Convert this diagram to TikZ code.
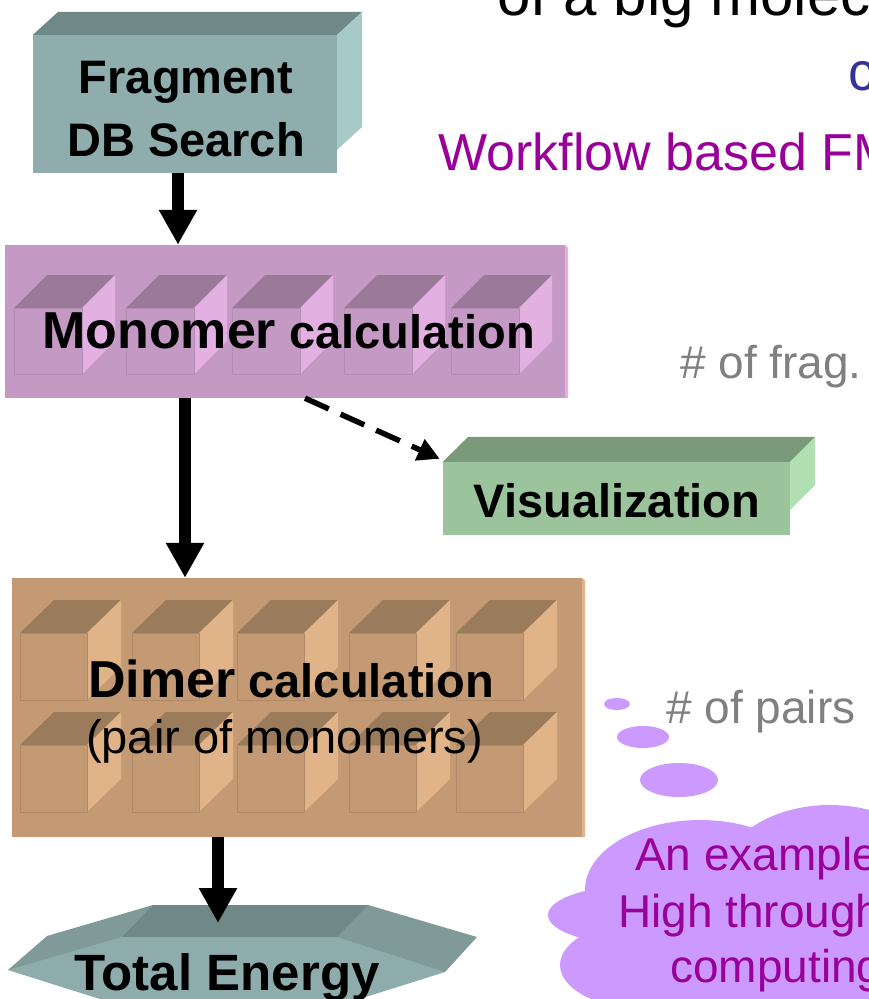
\documentclass[tikz,border=0pt]{standalone}
\usepackage{fontspec}
\setmainfont{Liberation Sans}
\usetikzlibrary{arrows.meta}
\definecolor{fragfront}{HTML}{8FADAD}
\definecolor{fragtop}{HTML}{6F8888}
\definecolor{fragside}{HTML}{A7C9C9}
\definecolor{monoback}{HTML}{C499C4}
\definecolor{monotop}{HTML}{9A7A98}
\definecolor{monoside}{HTML}{E2B1E2}
\definecolor{monoedge}{HTML}{B48CB4}
\definecolor{visfront}{HTML}{9CC49C}
\definecolor{vistop}{HTML}{7A9A7A}
\definecolor{visside}{HTML}{B2E0B2}
\definecolor{dimerback}{HTML}{C49A74}
\definecolor{dimertop}{HTML}{9A7B5C}
\definecolor{dimerside}{HTML}{E0B488}
\definecolor{dimeredge}{HTML}{B08A66}
\definecolor{tefront}{HTML}{8EACAC}
\definecolor{tetop}{HTML}{718888}
\definecolor{teside}{HTML}{809999}
\definecolor{bubble}{HTML}{CC99FF}
\definecolor{graytext}{HTML}{808080}
\definecolor{flowpurple}{HTML}{990099}
\definecolor{cfblue}{HTML}{333399}
\tikzset{
  bigarrow/.style={line width=12pt, -{Triangle[width=36pt,length=35pt]}},
  dasharrow/.style={line width=5.5pt, dash pattern=on 26pt off 13pt, -{Triangle[width=22pt,length=22pt]}},
  boxtext/.style={inner sep=0, font=\bfseries\fontsize{47}{56}\selectfont},
  plaintext/.style={inner sep=0, anchor=base west, font=\fontsize{46}{55}\selectfont},
  flatbox/.style={draw=none, inner sep=0, minimum width=#1},
}
\begin{document}
\begin{tikzpicture}[x=1pt, y=-1pt]
  \useasboundingbox (0,0) rectangle (869,999);
  \clip (0,0) rectangle (869,999);
  \node[inner sep=0, anchor=base west, font=\fontsize{60}{72}\selectfont] (title) at (497,15) {of a big molecule};
  \node[inner sep=0, anchor=base west, text=cfblue, font=\fontsize{54}{64}\selectfont] (cf) at (848,90) {c};
  \node[inner sep=0, anchor=base west, text=flowpurple, font=\fontsize{52}{62}\selectfont] (flow) at (438,170) {Workflow based FMO};
  \node[plaintext, text=graytext] (nfrag) at (680,378) {\# of frag.};
  \node[plaintext, text=graytext] (npairs) at (666,723) {\# of pairs};
  % fragment search
  \node[flatbox=304pt, fill=fragfront, minimum height=138pt] (frag) at (185,104) {};
  \fill[fragtop] (frag.north west) -- (frag.north east) -- ++(25,-23) -- ++(-304,0) -- cycle;
  \fill[fragside] (frag.north east) -- ++(25,-23) -- ++(0,115) -- ++(-25,23) -- cycle;
  \node[boxtext, anchor=base] (fragtxt1) at (186,93) {Fragment};
  \node[boxtext, anchor=base] (fragtxt2) at (186,156) {DB Search};
  % monomers
  \node[flatbox=560pt, fill=monoback, minimum height=153pt] (mono) at (285,321.5) {};
  \fill[monoside] (mono.north east) -- ++(3,3) -- ++(0,150) -- ++(-3,0) -- cycle;
  \foreach \x in {14,126,232,344,451} {
    \fill[monotop] (\x,308) -- ++(68,0) -- ++(33,-33) -- ++(-68,0) -- cycle;
    \fill[monoside] (\x+68,308) -- ++(33,-33) -- ++(0,66) -- ++(-33,33) -- cycle;
    \draw[monoedge, line width=1pt] (\x,308) rectangle ++(68,66);
  }
  \node[boxtext, anchor=base west] (monotxt) at (42,348)
    {{\fontsize{52}{62}\selectfont Monomer} calculation};
  % visualization
  \node[flatbox=347pt, fill=visfront, minimum height=73pt] (vis) at (616.5,498.5) {};
  \fill[vistop] (vis.north west) -- (vis.north east) -- ++(25,-25) -- ++(-347,0) -- cycle;
  \fill[visside] (vis.north east) -- ++(25,-25) -- ++(0,48) -- ++(-25,25) -- cycle;
  \node[boxtext, anchor=base] (vistxt) at (617,517) {Visualization};
  % dimers
  \node[flatbox=570pt, fill=dimerback, minimum height=259pt] (dimer) at (297,707.5) {};
  \fill[dimerside] (dimer.north east) -- ++(3,3) -- ++(0,256) -- ++(-3,0) -- cycle;
  \foreach \x in {20,132,237,349,456} {
    \foreach \y in {633,745} {
      \fill[dimertop] (\x,\y) -- ++(67,0) -- ++(34,-33) -- ++(-67,0) -- cycle;
      \fill[dimerside] (\x+67,\y) -- ++(34,-33) -- ++(0,67) -- ++(-34,33) -- cycle;
      \draw[dimeredge, line width=1pt] (\x,\y) rectangle ++(67,67);
    }
  }
  \node[boxtext, anchor=base west] (dimertxt) at (88,697)
    {{\fontsize{52}{62}\selectfont Dimer} calculation};
  \node[inner sep=0, anchor=base west, font=\fontsize{47}{56}\selectfont] (pairtxt) at (86,753) {(pair of monomers)};
  % total energy
  \fill[teside] (8,970) -- (47,936) -- (153,905) -- (368,905) -- (477,937) -- (445,972) -- cycle;
  \fill[tetop] (153,905) -- (368,905) -- (337,937) -- (122,937) -- cycle;
  \fill[tefront] (8,970) -- (122,937) -- (337,937) -- (445,972) -- (337,1006) -- (122,1006) -- cycle;
  \coordinate (tetip) at (218,923);
  \node[boxtext, anchor=base, font=\bfseries\fontsize{51}{60}\selectfont] (tetxt) at (227,990) {Total Energy};
  % arrows
  \draw[bigarrow] ([xshift=-7pt]frag.south) -- ([xshift=-7pt]frag.south |- mono.north);
  \draw[bigarrow] ([xshift=-100pt]mono.south) -- ([xshift=-100pt]mono.south |- dimer.north);
  \draw[bigarrow] ([xshift=-79pt]dimer.south) -- (tetip);
  \draw[dasharrow] ([xshift=20pt]mono.south) -- ([shift={(-3,-3)}]vis.north west);
  % thought bubble
  \fill[bubble] (617,704) ellipse [x radius=13, y radius=6];
  \fill[bubble] (643,737) ellipse [x radius=26, y radius=11];
  \fill[bubble] (679,780) ellipse [x radius=39, y radius=17];
  \fill[bubble] (700,890) ellipse [x radius=115, y radius=70];
  \fill[bubble] (830,880) ellipse [x radius=110, y radius=75];
  \fill[bubble] (640,915) ellipse [x radius=92, y radius=30];
  \fill[bubble] (650,965) ellipse [x radius=90, y radius=45];
  \fill[bubble] (780,960) ellipse [x radius=130, y radius=60];
  \node[plaintext, text=flowpurple] (ex1) at (635,870) {An example};
  \node[plaintext, text=flowpurple] (ex2) at (618,927) {High throughput};
  \node[plaintext, text=flowpurple] (ex3) at (670,982) {computing};
\end{tikzpicture}
\end{document}
